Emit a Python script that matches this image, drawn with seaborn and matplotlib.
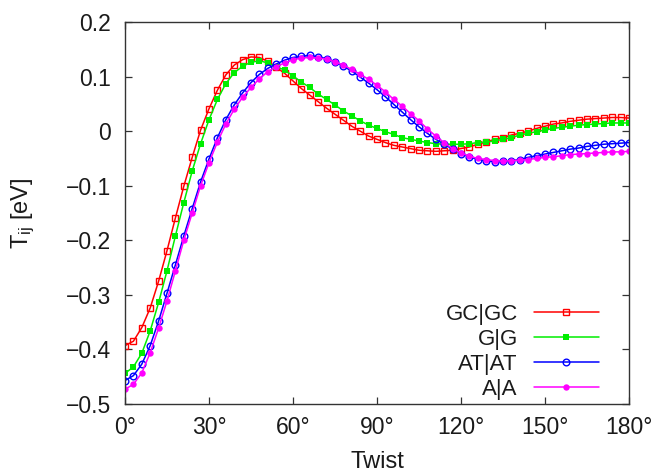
import numpy as np
import pandas as pd
import matplotlib
matplotlib.use("Agg")
import matplotlib.pyplot as plt
import seaborn as sns

twist = list(range(0, 181, 3))

gc_gc = [-0.393, -0.385, -0.360, -0.324, -0.275, -0.219, -0.159, -0.101, -0.048, 0.002,
         0.041, 0.075, 0.103, 0.121, 0.131, 0.136, 0.135, 0.128, 0.117, 0.106,
         0.092, 0.078, 0.066, 0.054, 0.042, 0.031, 0.020, 0.009, 0.000, -0.009,
         -0.015, -0.021, -0.026, -0.029, -0.032, -0.035, -0.036, -0.037, -0.036, -0.035,
         -0.032, -0.029, -0.024, -0.020, -0.015, -0.012, -0.007, -0.004, 0.000, 0.005,
         0.009, 0.013, 0.015, 0.018, 0.020, 0.022, 0.023, 0.024, 0.025, 0.025, 0.024]

g_g = [-0.444, -0.432, -0.407, -0.366, -0.314, -0.256, -0.192, -0.131, -0.073, -0.023,
       0.021, 0.058, 0.087, 0.107, 0.119, 0.126, 0.129, 0.125, 0.118, 0.112,
       0.101, 0.090, 0.080, 0.068, 0.058, 0.048, 0.037, 0.028, 0.019, 0.011,
       0.005, -0.001, -0.006, -0.012, -0.015, -0.018, -0.021, -0.023, -0.024, -0.024,
       -0.024, -0.023, -0.021, -0.020, -0.018, -0.015, -0.012, -0.007, -0.004, -0.001,
       0.002, 0.005, 0.007, 0.009, 0.011, 0.012, 0.013, 0.014, 0.015, 0.015, 0.015]

at_at = [-0.457, -0.448, -0.427, -0.393, -0.348, -0.297, -0.245, -0.192, -0.142, -0.093,
         -0.051, -0.012, 0.021, 0.048, 0.070, 0.089, 0.104, 0.115, 0.123, 0.130,
         0.135, 0.137, 0.139, 0.136, 0.133, 0.127, 0.119, 0.110, 0.099, 0.088,
         0.076, 0.063, 0.049, 0.035, 0.021, 0.008, -0.004, -0.015, -0.024, -0.033,
         -0.041, -0.047, -0.052, -0.054, -0.056, -0.055, -0.054, -0.052, -0.048, -0.045,
         -0.042, -0.039, -0.036, -0.033, -0.031, -0.028, -0.026, -0.024, -0.023, -0.022, -0.021]

a_a = [-0.473, -0.464, -0.443, -0.406, -0.361, -0.311, -0.256, -0.200, -0.150, -0.100,
       -0.058, -0.020, 0.013, 0.040, 0.062, 0.080, 0.096, 0.109, 0.118, 0.125,
       0.131, 0.134, 0.135, 0.134, 0.132, 0.127, 0.121, 0.113, 0.104, 0.095,
       0.084, 0.072, 0.058, 0.046, 0.032, 0.019, 0.004, -0.009, -0.021, -0.032,
       -0.040, -0.046, -0.050, -0.052, -0.054, -0.055, -0.054, -0.053, -0.052, -0.050,
       -0.048, -0.047, -0.045, -0.043, -0.042, -0.041, -0.040, -0.039, -0.038, -0.038, -0.037]

series_names = ["GC|GC", "G|G", "AT|AT", "A|A"]
x_ticks = [0, 30, 60, 90, 120, 150, 180]
x_tick_labels = ["0°", "30°", "60°", "90°", "120°", "150°", "180°"]
y_ticks = [-0.5, -0.4, -0.3, -0.2, -0.1, 0, 0.1, 0.2]
y_tick_labels = ["\u22120.5", "\u22120.4", "\u22120.3", "\u22120.2", "\u22120.1", "0", "0.1", "0.2"]

sns.set_style("ticks")
plt.rcParams["font.family"] = ["Liberation Sans", "DejaVu Sans"]
plt.rcParams["mathtext.default"] = "regular"

fig = plt.figure(figsize=(6.57, 4.75), dpi=100)
ax = fig.add_axes([125 / 657, 1 - 404 / 475, 504 / 657, 382 / 475])

styles = [
    dict(color="#ff0000", marker="s", markersize=4.8, markerfacecolor="none", markeredgewidth=1.0),
    dict(color="#00ee00", marker="s", markersize=4.4, markeredgewidth=0),
    dict(color="#0000ff", marker="o", markersize=4.8, markerfacecolor="none", markeredgewidth=1.0),
    dict(color="#ff00ff", marker="o", markersize=4.6, markeredgewidth=0),
]
values = [gc_gc, g_g, at_at, a_a]
for name, vals, st in zip(series_names, values, styles):
    df = pd.DataFrame({"twist": twist, "T": vals})
    sns.lineplot(data=df, x="twist", y="T", ax=ax, label=name, linewidth=1.1,
                 markeredgecolor=st["color"], **st)

ax.set_xlim(0, 180)
ax.set_ylim(-0.5, 0.2)
ax.set_xticks(x_ticks)
ax.set_xticklabels(x_tick_labels)
ax.set_yticks(y_ticks)
ax.set_yticklabels(y_tick_labels)
ax.tick_params(direction="in", length=5, width=0.9, top=True, right=True,
               labelsize=16.5, colors="#333333", labelcolor="#1a1a1a")
ax.tick_params(axis="x", pad=9)
ax.tick_params(axis="y", pad=10)
for sp in ax.spines.values():
    sp.set_visible(True)
    sp.set_color("#333333")
    sp.set_linewidth(1.0)

ax.set_xlabel("Twist", fontsize=17, color="#1a1a1a")
ax.set_ylabel("T$_{ij}$ [eV]", fontsize=17, color="#1a1a1a")
ax.xaxis.set_label_coords(0.5, -0.122)
ax.yaxis.set_label_coords(-0.174, 0.5)

leg = ax.legend(loc="lower right", bbox_to_anchor=(0.94, 0.01), frameon=False,
                markerfirst=False, fontsize=16, handlelength=2.93, handletextpad=0.72,
                labelspacing=0.18, borderpad=0, borderaxespad=0, numpoints=1)
for t in leg.get_texts():
    t.set_color("#1a1a1a")

fig.savefig("out.png", dpi=100)
